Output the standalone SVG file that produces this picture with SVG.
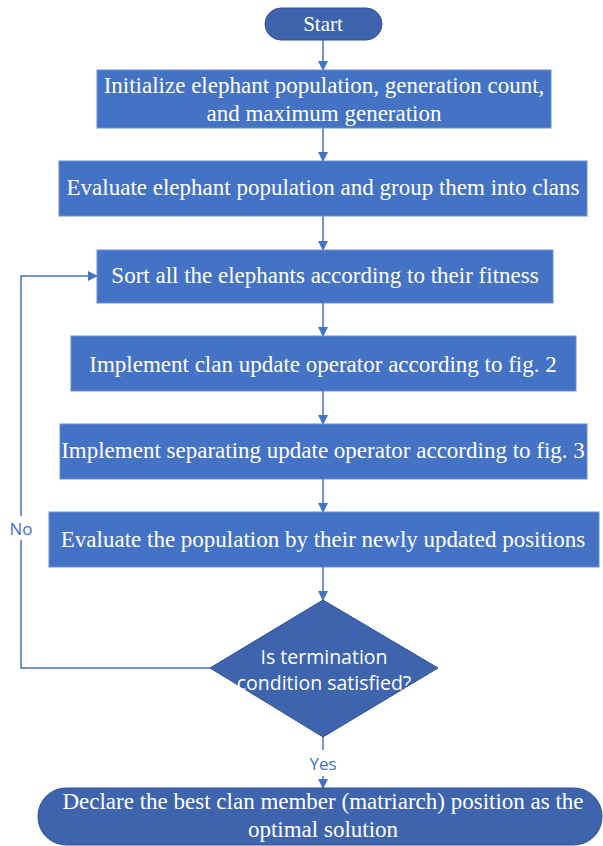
<svg xmlns="http://www.w3.org/2000/svg" width="603" height="846" viewBox="0 0 603 846">
<style>
.box{fill:#4472C4;stroke:#6A8FD3;stroke-width:1}
.dark{fill:#3E64AD;stroke:#2F528F;stroke-width:1}
.t{font-family:"Liberation Serif","Times New Roman",serif;font-size:23px;fill:#fff;text-anchor:middle}
.s{font-family:"Open Sans","Noto Sans",sans-serif;font-size:19.5px;fill:#fff;text-anchor:middle}
.lbl{font-family:"Open Sans","Noto Sans",sans-serif;font-size:17px;fill:#4472C4;text-anchor:middle}
.ln{fill:none;stroke:#4472C4;stroke-width:1.5}
</style>
<defs>
<marker id="ah" markerWidth="10" markerHeight="10" refX="9" refY="5" orient="auto" markerUnits="userSpaceOnUse">
<path d="M0,0 L10,5 L0,10 Z" fill="#4472C4"/>
</marker>
</defs>
<g id="connectors">
<line class="ln" x1="323" y1="40" x2="323" y2="70" marker-end="url(#ah)"/>
<line class="ln" x1="323" y1="128" x2="323" y2="161" marker-end="url(#ah)"/>
<line class="ln" x1="323" y1="216" x2="323" y2="250" marker-end="url(#ah)"/>
<line class="ln" x1="323" y1="303" x2="323" y2="336" marker-end="url(#ah)"/>
<line class="ln" x1="323" y1="391" x2="323" y2="424" marker-end="url(#ah)"/>
<line class="ln" x1="323" y1="479" x2="323" y2="512" marker-end="url(#ah)"/>
<line class="ln" x1="323" y1="567" x2="323" y2="600" marker-end="url(#ah)"/>
<line class="ln" x1="323" y1="737" x2="323" y2="750"/>
<line class="ln" x1="323" y1="776" x2="323" y2="788" marker-end="url(#ah)"/>
<polyline class="ln" points="210,668 21,668 21,276 97,276" marker-end="url(#ah)"/>
<rect x="8" y="516" width="28" height="24" fill="#fff"/>
<text class="lbl" x="21" y="535">No</text>
<text class="lbl" x="323" y="770">Yes</text>
</g>
<g id="start">
<rect class="dark" x="265" y="8" width="117" height="32" rx="16"/>
<text class="t" x="323" y="31" style="font-size:21px">Start</text>
</g>
<g id="init">
<rect class="box" x="97" y="70" width="454" height="58"/>
<text class="t" x="324" y="93">Initialize elephant population, generation count,</text>
<text class="t" x="324" y="121">and maximum generation</text>
</g>
<g id="evaluate">
<rect class="box" x="59" y="161" width="528" height="55"/>
<text class="t" x="323" y="195">Evaluate elephant population and group them into clans</text>
</g>
<g id="sort">
<rect class="box" x="97" y="250" width="456" height="53"/>
<text class="t" x="325" y="283">Sort all the elephants according to their fitness</text>
</g>
<g id="clan">
<rect class="box" x="71" y="336" width="505" height="55"/>
<text class="t" x="323" y="372">Implement clan update operator according to fig. 2</text>
</g>
<g id="separate">
<rect class="box" x="60" y="424" width="527" height="55"/>
<text class="t" x="323" y="458">Implement separating update operator according to fig. 3</text>
</g>
<g id="evalnew">
<rect class="box" x="49" y="512" width="550" height="55"/>
<text class="t" x="323" y="547">Evaluate the population by their newly updated positions</text>
</g>
<g id="decision">
<polygon class="dark" points="323,600 438,668 323,737 210,668"/>
<text class="s" x="324" y="664">Is termination</text>
<text class="s" x="324" y="690">condition satisfied?</text>
</g>
<g id="end">
<rect class="dark" x="38" y="788" width="564" height="57" rx="28"/>
<text class="t" x="323" y="809">Declare the best clan member (matriarch) position as the</text>
<text class="t" x="323" y="837">optimal solution</text>
</g>
</svg>
